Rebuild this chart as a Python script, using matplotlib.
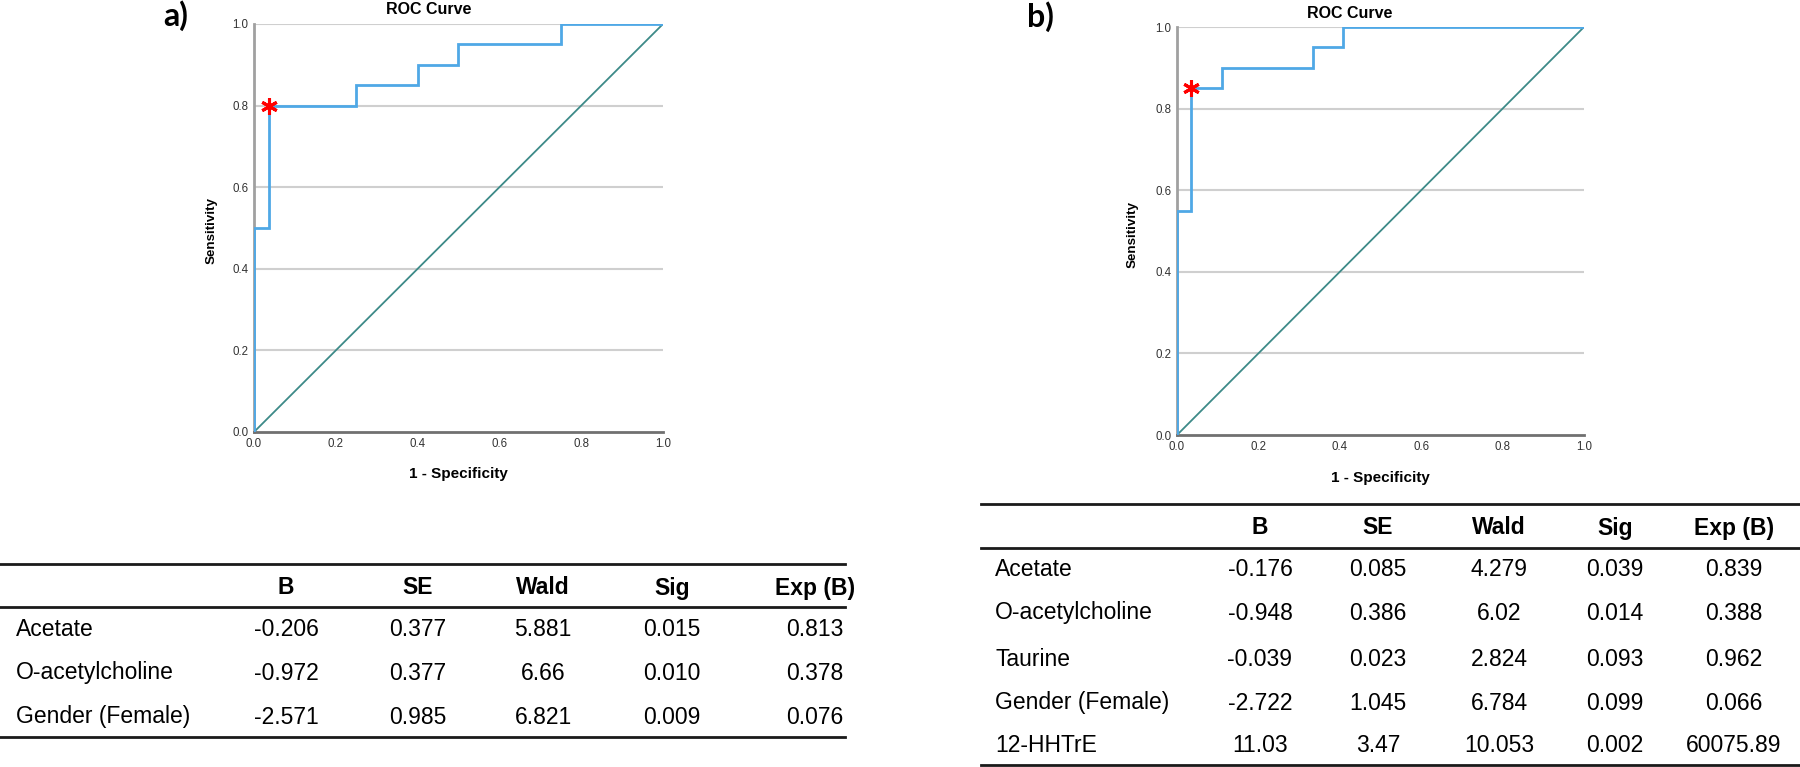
import matplotlib
matplotlib.use("Agg")
import matplotlib.pyplot as plt

# ---------------- data ----------------
fpr_a = [0.0, 0.0, 0.037, 0.037, 0.25, 0.25, 0.40, 0.40, 0.50, 0.50, 0.75, 0.75, 1.0]
tpr_a = [0.0, 0.50, 0.50, 0.80, 0.80, 0.85, 0.85, 0.90, 0.90, 0.95, 0.95, 1.0, 1.0]
cut_a = (0.037, 0.80)

fpr_b = [0.0, 0.0, 0.035, 0.035, 0.11, 0.11, 0.333, 0.333, 0.407, 0.407, 1.0]
tpr_b = [0.0, 0.55, 0.55, 0.85, 0.85, 0.90, 0.90, 0.95, 0.95, 1.0, 1.0]
cut_b = (0.035, 0.85)

ticks = [0.0, 0.2, 0.4, 0.6, 0.8, 1.0]
tick_labels = ["0.0", "0.2", "0.4", "0.6", "0.8", "1.0"]

columns = ["B", "SE", "Wald", "Sig", "Exp (B)"]

rows_a = ["Acetate", "O-acetylcholine", "Gender (Female)"]
vals_a = [
    ["-0.206", "0.377", "5.881", "0.015", "0.813"],
    ["-0.972", "0.377", "6.66", "0.010", "0.378"],
    ["-2.571", "0.985", "6.821", "0.009", "0.076"],
]

rows_b = ["Acetate", "O-acetylcholine", "Taurine", "Gender (Female)", "12-HHTrE"]
vals_b = [
    ["-0.176", "0.085", "4.279", "0.039", "0.839"],
    ["-0.948", "0.386", "6.02", "0.014", "0.388"],
    ["-0.039", "0.023", "2.824", "0.093", "0.962"],
    ["-2.722", "1.045", "6.784", "0.099", "0.066"],
    ["11.03", "3.47", "10.053", "0.002", "60075.89"],
]

# ---------------- figure ----------------
W, H = 1800, 767
fig = plt.figure(figsize=(W / 100, H / 100), dpi=100)
fig.patch.set_facecolor("white")
FONT = "Liberation Sans"

def fx(x):
    return x / W

def fy(y):
    return 1 - y / H

CURVE = "#4fa8e6"
DIAG = "#3d8a88"


def roc_panel(px_left, px_right, px_top, px_bottom, fpr, tpr, cut, title_xy, ylab_x, xlab_y, letter, letter_xy):
    ax = fig.add_axes([fx(px_left), fy(px_bottom), fx(px_right - px_left), (px_bottom - px_top) / H])
    ax.set_xlim(0, 1)
    ax.set_ylim(0, 1)
    for v in ticks[1:]:
        ax.axhline(v, color="#cfcfcf", lw=1.5, zorder=0)
    ax.plot([0, 1], [0, 1], color=DIAG, lw=1.3, zorder=2)
    ax.plot(fpr, tpr, color=CURVE, lw=2.0, zorder=3, solid_joinstyle="miter")
    ax.plot([cut[0]], [cut[1]], marker=(6, 2, 0), color="#ff0000", ms=12, mew=2.2,
            linestyle="none", zorder=4)
    for s in ["top", "right"]:
        ax.spines[s].set_visible(False)
    ax.spines["left"].set_color("#a0a0a0")
    ax.spines["left"].set_linewidth(2.0)
    ax.spines["bottom"].set_color("#707070")
    ax.spines["bottom"].set_linewidth(2.0)
    ax.set_xticks(ticks)
    ax.set_xticklabels(tick_labels)
    ax.set_yticks(ticks)
    ax.set_yticklabels(tick_labels)
    ax.tick_params(length=0, labelsize=8.3, labelcolor="#333333", pad=4)
    for t in ax.get_xticklabels() + ax.get_yticklabels():
        t.set_fontfamily(FONT)
    fig.text(fx(title_xy[0]), fy(title_xy[1]), "ROC Curve", ha="center", va="center",
             fontsize=11.5, fontweight="bold", family=FONT)
    fig.text(fx((px_left + px_right) / 2), fy(xlab_y), "1 - Specificity", ha="center", va="center",
             fontsize=11, fontweight="bold", family=FONT)
    fig.text(fx(ylab_x), fy((px_top + px_bottom) / 2 + 3), "Sensitivity", ha="center", va="center",
             rotation=90, fontsize=9.6, fontweight="bold", family=FONT)
    fig.text(fx(letter_xy[0]), fy(letter_xy[1]), letter, ha="center", va="center",
             fontsize=23, fontweight="bold", family="Lato")
    return ax


roc_panel(254, 663, 24, 432, fpr_a, tpr_a, cut_a, (429, 10), 212, 474, "a)", (176, 16))
roc_panel(1177, 1584, 27, 435, fpr_b, tpr_b, cut_b, (1350, 13), 1133, 478, "b)", (1040, 17))


def table(x0, x1, y_top, y_head_line, y_bottom, y_head, y_rows, label_x, col_x, rows, vals):
    for y in (y_top, y_head_line, y_bottom):
        fig.add_artist(plt.Line2D([fx(x0), fx(x1)], [fy(y), fy(y)], color="#1a1a1a", lw=2.0))
    for c, x in zip(columns, col_x):
        fig.text(fx(x), fy(y_head), c, ha="center", va="center", fontsize=16.5,
                 fontweight="bold", family=FONT)
    for r, y, v in zip(rows, y_rows, vals):
        fig.text(fx(label_x), fy(y), r, ha="left", va="center", fontsize=16.5, family=FONT)
        for s, x in zip(v, col_x):
            fig.text(fx(x), fy(y), s, ha="center", va="center", fontsize=16.5, family=FONT)


table(0, 845, 564, 607, 737, 588, [630, 673, 717], 16,
      [286, 418, 543, 672, 815], rows_a, vals_a)
table(981, 1800, 504, 548, 765, 528, [570, 613, 659, 703, 746], 995,
      [1260, 1378, 1499, 1615, 1734], rows_b, vals_b)

fig.savefig("out.png", dpi=100, facecolor="white")
